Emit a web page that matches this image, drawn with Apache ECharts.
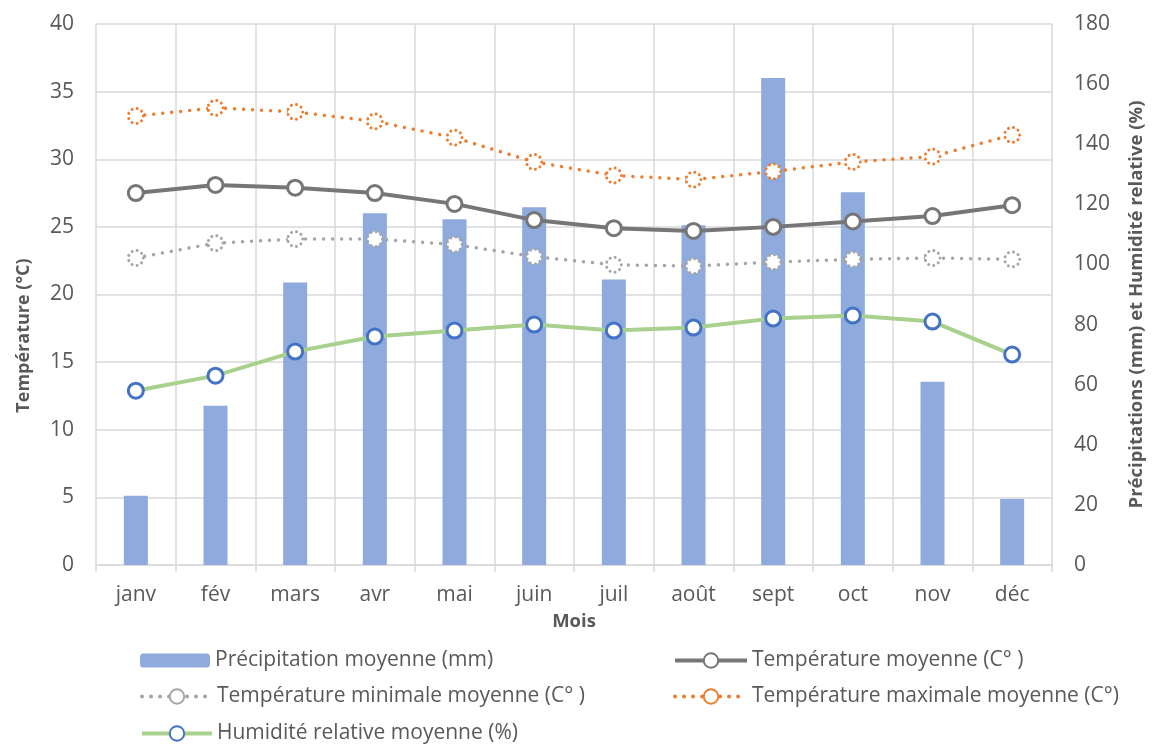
<!DOCTYPE html>
<html>
<head>
<meta charset="utf-8">
<script src="https://cdn.jsdelivr.net/npm/echarts@6/dist/echarts.min.js"></script>
<style>
  html, body { margin: 0; padding: 0; background: #fff; }
  #chart { width: 1154px; height: 745px; }
</style>
</head>
<body>
<div id="chart"></div>
<script>
// Monthly climate normals
const months = ['janv', 'fév', 'mars', 'avr', 'mai', 'juin', 'juil', 'août', 'sept', 'oct', 'nov', 'déc'];
const precipitation = [23, 53, 94, 117, 115, 119, 95, 113, 162, 124, 61, 22];
const tempMean = [27.5, 28.1, 27.9, 27.5, 26.7, 25.5, 24.9, 24.7, 25.0, 25.4, 25.8, 26.6];
const tempMin = [22.7, 23.8, 24.1, 24.1, 23.7, 22.8, 22.2, 22.1, 22.4, 22.6, 22.7, 22.6];
const tempMax = [33.2, 33.8, 33.5, 32.8, 31.6, 29.8, 28.8, 28.5, 29.1, 29.8, 30.2, 31.8];
const humidity = [58, 63, 71, 76, 78, 80, 78, 79, 82, 83, 81, 70];

const leftTicks = { min: 0, max: 40, interval: 5 };
const rightTicks = { min: 0, max: 180, interval: 20 };

const NAMES = {
  rain: 'Précipitation moyenne (mm)',
  mean: 'Température moyenne (C° )',
  min: 'Température minimale moyenne (C° )',
  max: 'Température maximale moyenne (C°)',
  hum: 'Humidité relative moyenne (%)'
};

const FONT = '"Open Sans", "Noto Sans", sans-serif';
const TXT = '#595959';
const GRID = '#d9d9d9';
const LABEL_SIZE = 21;

const chart = echarts.init(document.getElementById('chart'), null, { renderer: 'canvas' });

const legendText = { color: TXT, fontSize: LABEL_SIZE, fontFamily: FONT };
// one legend block per entry so the 2-column layout stays fixed
function legendAt(name, left, centerY, width, iconH) {
  return {
    left: left, top: centerY - 12, padding: 0, orient: 'horizontal',
    itemWidth: width, itemHeight: iconH, itemGap: 0,
    lineStyle: { width: 4 },
    textStyle: legendText, data: [name]
  };
}

const dotLine = (color) => ({ color: color, width: 3.5, type: [0.01, 9], cap: 'round' });
const dotMarker = (color) => ({ color: '#ffffff', borderColor: color, borderWidth: 3, borderType: [0.01, 5.2], borderCap: 'round' });

chart.setOption({
  animation: false,
  textStyle: { fontFamily: FONT },
  grid: { left: 96, right: 96, top: 24, bottom: 180, containLabel: false },
  legend: [
    legendAt(NAMES.rain, 140, 662, 70, 14),
    legendAt(NAMES.min, 140, 698, 70, 18),
    legendAt(NAMES.hum, 140, 735, 70, 18),
    legendAt(NAMES.mean, 673, 662, 72, 18),
    legendAt(NAMES.max, 673, 698, 72, 18)
  ],
  xAxis: {
    type: 'category',
    data: months,
    boundaryGap: true,
    name: 'Mois',
    nameLocation: 'middle',
    nameGap: 47,
    nameTextStyle: { color: TXT, fontSize: 18.5, fontWeight: 'bold', fontFamily: FONT },
    axisLine: { show: true, lineStyle: { color: GRID, width: 1.5 } },
    axisTick: { show: true, length: 7, lineStyle: { color: GRID, width: 1.5 } },
    axisLabel: { color: TXT, fontSize: LABEL_SIZE, margin: 20, fontFamily: FONT },
    splitLine: { show: true, lineStyle: { color: GRID, width: 1.5 } }
  },
  yAxis: [
    {
      type: 'value',
      min: leftTicks.min, max: leftTicks.max, interval: leftTicks.interval,
      name: 'Température (°C)',
      nameLocation: 'middle',
      nameGap: 63,
      nameRotate: 90,
      nameTextStyle: { color: TXT, fontSize: 18, fontWeight: 'bold', fontFamily: FONT, padding: [0, 82, 0, 0] },
      axisLine: { show: false },
      axisTick: { show: false },
      axisLabel: { color: TXT, fontSize: LABEL_SIZE, margin: 22, fontFamily: FONT },
      splitLine: { show: true, lineStyle: { color: GRID, width: 1.5 } }
    },
    {
      type: 'value',
      position: 'right',
      min: rightTicks.min, max: rightTicks.max, interval: rightTicks.interval,
      name: 'Précipitations (mm) et Humidité relative (%)',
      nameLocation: 'middle',
      nameGap: 75,
      nameRotate: 90,
      nameTextStyle: { color: TXT, fontSize: 18.5, fontWeight: 'bold', fontFamily: FONT, padding: [0, 20, 0, 0] },
      axisLine: { show: false },
      axisTick: { show: false },
      axisLabel: { color: TXT, fontSize: LABEL_SIZE, margin: 22, fontFamily: FONT },
      splitLine: { show: false }
    }
  ],
  series: [
    {
      name: NAMES.rain,
      type: 'bar',
      yAxisIndex: 1,
      data: precipitation,
      barWidth: 24,
      itemStyle: { color: '#8faadc' },
      z: 1
    },
    {
      name: NAMES.mean,
      type: 'line',
      yAxisIndex: 0,
      data: tempMean,
      symbol: 'circle',
      symbolSize: 15,
      lineStyle: { color: '#767676', width: 4 },
      itemStyle: { color: '#ffffff', borderColor: '#767676', borderWidth: 3 },
      z: 3
    },
    {
      name: NAMES.min,
      type: 'line',
      yAxisIndex: 0,
      data: tempMin,
      symbol: 'circle',
      symbolSize: 15,
      lineStyle: dotLine('#a5a5a5'),
      itemStyle: dotMarker('#a5a5a5'),
      z: 3
    },
    {
      name: NAMES.max,
      type: 'line',
      yAxisIndex: 0,
      data: tempMax,
      symbol: 'circle',
      symbolSize: 15,
      lineStyle: dotLine('#ed7d31'),
      itemStyle: dotMarker('#ed7d31'),
      z: 3
    },
    {
      name: NAMES.hum,
      type: 'line',
      yAxisIndex: 1,
      data: humidity,
      symbol: 'circle',
      symbolSize: 15,
      lineStyle: { color: '#a9d18e', width: 4 },
      itemStyle: { color: '#ffffff', borderColor: '#4472c4', borderWidth: 3 },
      z: 4
    }
  ]
});
</script>
</body>
</html>
